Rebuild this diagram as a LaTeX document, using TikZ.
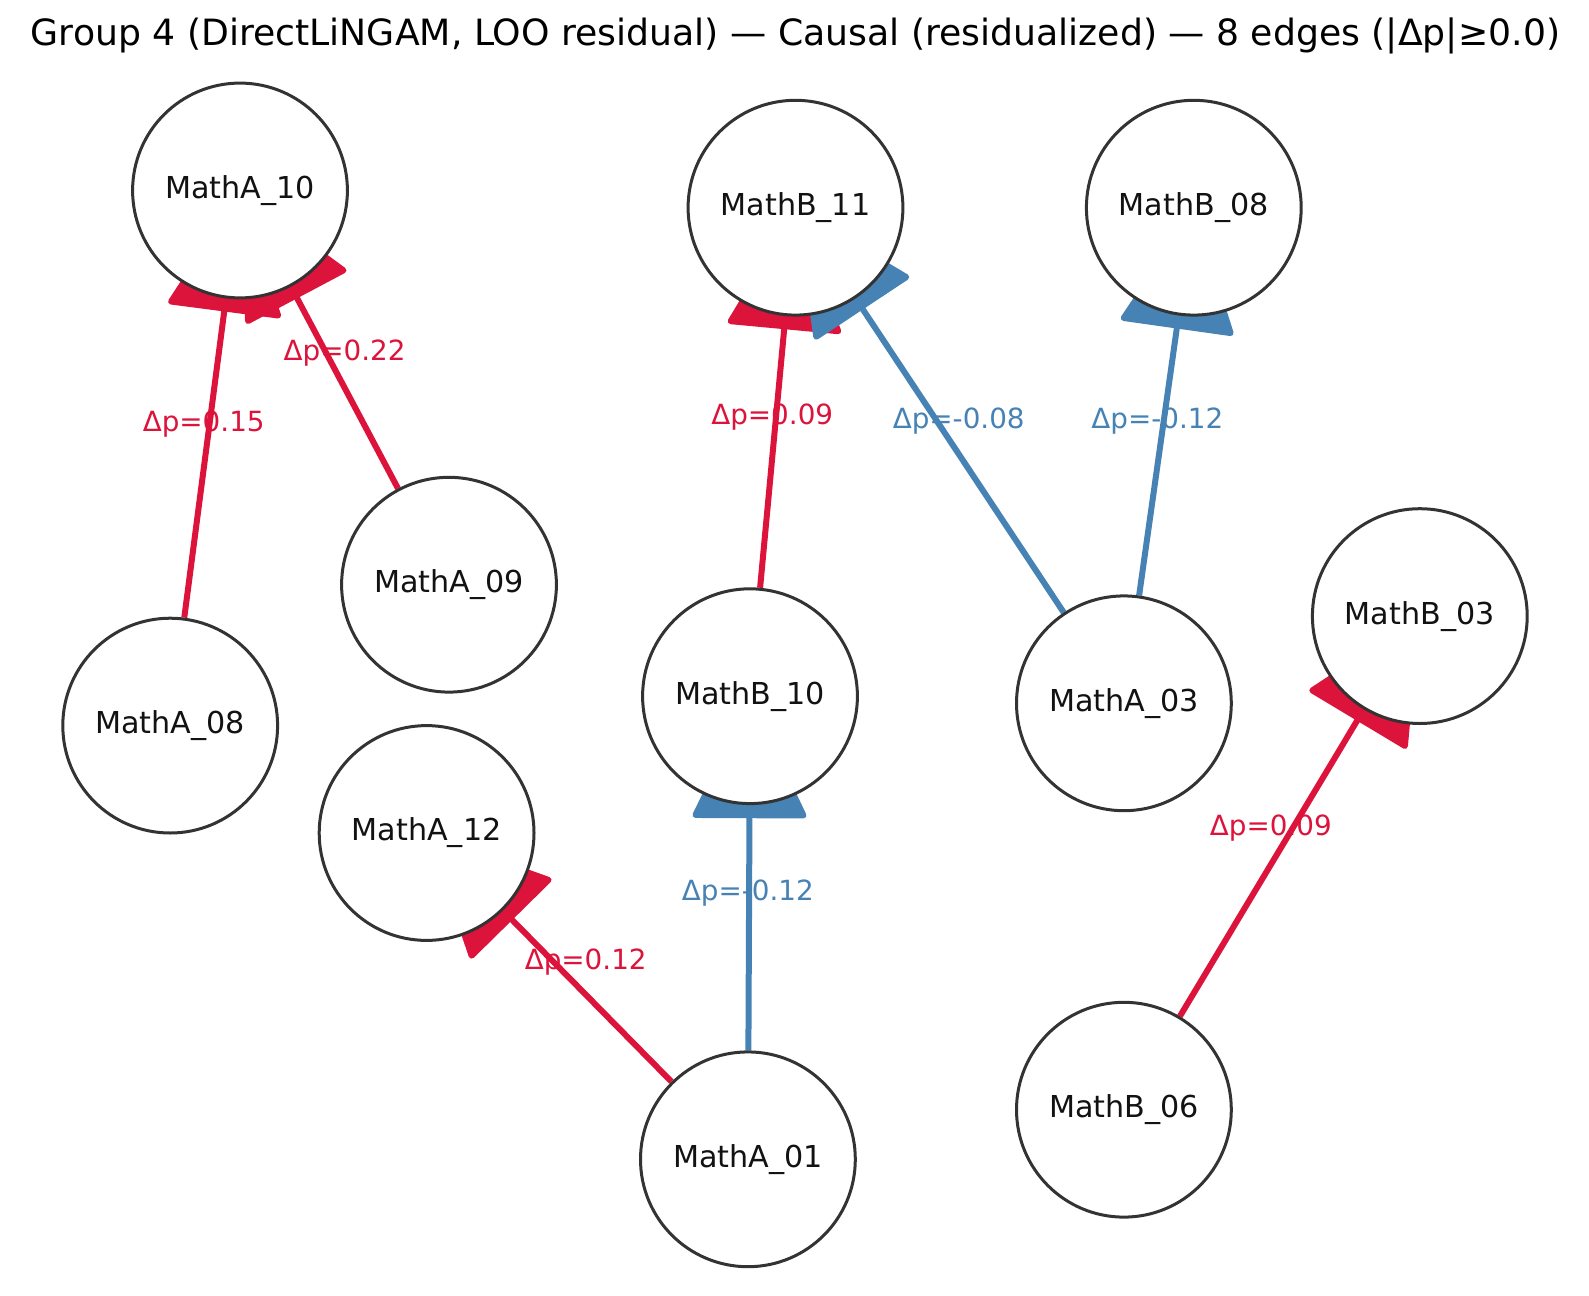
\documentclass[tikz,border=0pt]{standalone}
\usepackage{fontspec}
\setmainfont{DejaVu Sans}
\usetikzlibrary{arrows.meta,backgrounds}
\definecolor{posColor}{RGB}{220,20,60}
\definecolor{negColor}{RGB}{70,130,180}
\definecolor{nodeLine}{RGB}{51,51,51}
\tikzstyle{canvas} = [x = 0.5pt, y = -0.5pt]
\tikzstyle{varNode} = [circle, draw=nodeLine, line width=1.5pt, fill=white, minimum size=107.4pt, inner sep=0pt, text=black!93, font=\fontsize{15.1}{18}\selectfont]
\tikzstyle{causalEdge} = [line width=3pt, -{Triangle[length=61pt, width=58pt, round]}, shorten >=2pt]
\tikzstyle{edgeText} = [font=\fontsize{13.9}{16}\selectfont, inner sep=0pt]
\tikzstyle{titleText} = [font=\fontsize{18.1}{21}\selectfont, inner sep=0pt]
\newcommand{\causalLink}[6]{\draw [causalEdge, color=#3] (#1) -- (#2.center); \node [edgeText, text=#3] at (#5, #6) {#4};}

\begin{document}
\begin{tikzpicture}[canvas]
  \useasboundingbox (0,0) rectangle (1589,1295);
  \node [titleText] (title) at (795.5,35.5) {Group 4 (DirectLiNGAM, LOO residual) — Causal (residualized) — 8 edges (|Δp|≥0.0)};
  % variables
  \node [varNode] (A10) at (240,190.5) {MathA\_10};
  \node [varNode] (B11) at (795.5,207.7) {MathB\_11};
  \node [varNode] (B08) at (1193.8,207.7) {MathB\_08};
  \node [varNode] (A09) at (449,584.7) {MathA\_09};
  \node [varNode] (A08) at (170.2,725.6) {MathA\_08};
  \node [varNode] (B10) at (750,696.2) {MathB\_10};
  \node [varNode] (A03) at (1123.9,703.3) {MathA\_03};
  \node [varNode] (B03) at (1419.8,616.1) {MathB\_03};
  \node [varNode] (A12) at (426.6,833) {MathA\_12};
  \node [varNode] (A01) at (747.9,1159.3) {MathA\_01};
  \node [varNode] (B06) at (1123.9,1109.7) {MathB\_06};
  % edges
  \begin{scope}[on background layer]
    \causalLink{A08}{A10}{posColor}{Δp=0.15}{203.7}{423.6}
    \causalLink{A09}{A10}{posColor}{Δp=0.22}{344.6}{352.7}
    \causalLink{B10}{B11}{posColor}{Δp=0.09}{772.2}{417.5}
    \causalLink{A03}{B11}{negColor}{Δp=-0.08}{958.7}{420.6}
    \causalLink{A03}{B08}{negColor}{Δp=-0.12}{1157.3}{420.6}
    \causalLink{A01}{B10}{negColor}{Δp=-0.12}{747.9}{892.8}
    \causalLink{A01}{A12}{posColor}{Δp=0.12}{585.7}{961.7}
    \causalLink{B06}{B03}{posColor}{Δp=0.09}{1270.8}{827.9}
  \end{scope}
\end{tikzpicture}
\end{document}
